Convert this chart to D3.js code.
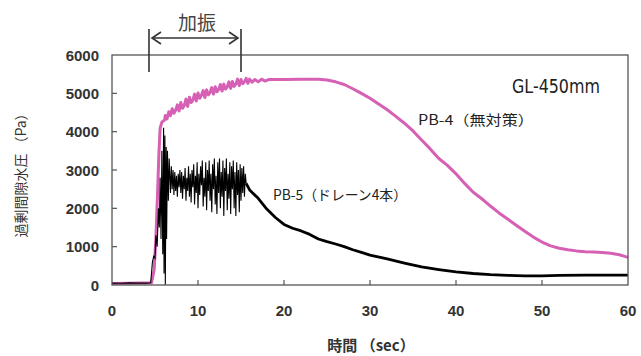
<!DOCTYPE html>
<html>
<head>
<meta charset="utf-8">
<script src="https://cdn.jsdelivr.net/npm/d3@7"></script>
<style>
  body { margin: 0; background: #fff; }
  svg { display: block; }
  .tick-label { font-family: "Liberation Sans", Arial, sans-serif; font-size: 15px; font-weight: bold; fill: #333; }
  .jp { font-family: "Noto Sans CJK JP", "Noto Sans", sans-serif; fill: #333; }
</style>
</head>
<body>
<div id="chart"></div>
<script>
// x / y ticks
const xTicks = [0, 10, 20, 30, 40, 50, 60];
const yTicks = [0, 1000, 2000, 3000, 4000, 5000, 6000];

// shaking period (sec)
const shakeRange = [4.3, 15.0];

// PB-4 (no countermeasure) [sec, Pa]
const pb4 = [
  [0, 40], [2, 45], [4.6, 60], [4.9, 400], [5.1, 1200], [5.3, 2400], [5.45, 3400],
  [5.6, 4100], [5.8, 4250], [6.1, 4300], [6.2, 4420],
  [6.4, 4330], [6.6, 4520], [6.8, 4420], [7.0, 4600], [7.2, 4480], [7.4, 4560],
  [7.6, 4700], [7.8, 4540], [8.0, 4760], [8.2, 4610], [8.4, 4680], [8.6, 4850],
  [8.8, 4660], [9.0, 4900], [9.2, 4760], [9.4, 4820], [9.6, 4980], [9.8, 4800],
  [10.0, 5010], [10.2, 4870], [10.4, 4950], [10.6, 5070], [10.8, 4890], [11.0, 5090],
  [11.2, 4960], [11.4, 5020], [11.6, 5150], [11.8, 4980], [12.0, 5170], [12.2, 5040],
  [12.4, 5100], [12.6, 5230], [12.8, 5060], [13.0, 5240], [13.2, 5110], [13.4, 5170],
  [13.6, 5300], [13.8, 5130], [14.0, 5310], [14.2, 5180], [14.4, 5240], [14.6, 5370],
  [14.8, 5200], [15.0, 5360], [15.2, 5250], [15.4, 5300], [15.6, 5390], [15.8, 5260],
  [16.0, 5370], [16.3, 5290], [16.6, 5360], [17.0, 5300], [17.4, 5370], [17.8, 5320],
  [18.2, 5360], [20, 5360], [22, 5370], [24, 5370], [25, 5350], [26, 5300], [27, 5230],
  [28, 5120], [29, 5000], [30, 4870], [31, 4720], [32, 4570], [33, 4400], [34, 4220],
  [35, 4020], [36, 3780], [37, 3550], [38, 3300], [39, 3120], [40, 2900], [41, 2650],
  [42, 2420], [43, 2250], [44, 2060], [45, 1880], [46, 1720], [47, 1560], [48, 1400],
  [49, 1250], [50, 1120], [51, 1020], [52, 960], [53, 920], [54, 890], [55, 870],
  [56, 860], [57, 850], [58, 830], [59, 790], [60, 720]
];

// PB-5 (4 drains) [sec, Pa] - during shaking
const pb5Shake = [
  [0, 50], [1, 45], [2, 55], [3, 50], [4, 50], [4.5, 60], [4.7, 600], [4.85, 750],
  [5.0, 700], [5.1, 1300], [5.25, 1000], [5.4, 2000], [5.5, 1500], [5.6, 2800],
  [5.7, 1200], [5.8, 3500], [5.9, 800], [6.0, 4100], [6.05, 300], [6.15, 3900],
  [6.2, 0], [6.3, 3600], [6.35, 1200], [6.45, 3500], [6.55, 2200], [6.65, 3300],
  [6.8, 2400], [6.9, 3100],
  [7.0, 2500], [7.1, 3000], [7.2, 2350], [7.3, 2950], [7.4, 2450], [7.5, 2850],
  [7.6, 2300], [7.7, 2900], [7.8, 2550], [7.9, 3000], [8.0, 2400], [8.1, 2950],
  [8.2, 2250], [8.3, 2850], [8.4, 2500], [8.5, 3050], [8.6, 2200], [8.7, 2800],
  [8.8, 2450], [8.9, 3100], [9.0, 2300], [9.1, 2900], [9.2, 2150], [9.3, 3000],
  [9.4, 2550], [9.5, 3150], [9.6, 2100], [9.7, 2850], [9.8, 2400], [9.9, 3200],
  [10.0, 2000], [10.1, 2900], [10.2, 2350], [10.3, 3100], [10.4, 2600], [10.5, 3250],
  [10.6, 2050], [10.7, 2800], [10.8, 2300], [10.9, 3200], [11.0, 1950], [11.1, 3000],
  [11.2, 2450], [11.3, 3250], [11.4, 2200], [11.5, 2900], [11.6, 1900], [11.7, 3150],
  [11.8, 2500], [11.9, 3300], [12.0, 2100], [12.1, 2850], [12.2, 1850], [12.3, 3200],
  [12.4, 2400], [12.5, 3300], [12.6, 2000], [12.7, 2950], [12.8, 2300], [12.9, 3250],
  [13.0, 1800], [13.1, 3050], [13.2, 2450], [13.3, 3300], [13.4, 1950], [13.5, 2900],
  [13.6, 2250], [13.7, 3200], [13.8, 1850], [13.9, 3100], [14.0, 2500], [14.1, 3250],
  [14.2, 2000], [14.3, 2950], [14.4, 1800], [14.5, 3200], [14.6, 2350], [14.7, 3000],
  [14.8, 1900], [14.9, 3150], [15.0, 2200], [15.1, 3050], [15.2, 2400], [15.3, 3100],
  [15.4, 2300], [15.5, 2900], [15.6, 2650]
];

// PB-5 after shaking
const pb5Decay = [
  [15.6, 2650], [16, 2480], [17, 2260], [18, 1980], [19, 1760], [20, 1580], [21, 1480],
  [22, 1410], [23, 1320], [24, 1200], [25, 1130], [26, 1070], [27, 1000], [28, 920],
  [29, 850], [30, 780], [32, 680], [34, 570], [36, 470], [38, 400], [40, 340],
  [42, 300], [44, 270], [46, 250], [48, 240], [50, 240], [52, 250], [55, 255],
  [58, 260], [60, 260]
];

const width = 641, height = 356;
const margin = {left: 112, right: 13, top: 55, bottom: 71};

const svg = d3.select("#chart").append("svg")
  .attr("width", width)
  .attr("height", height);

const x = d3.scaleLinear().domain([0, 60]).range([margin.left, width - margin.right]);
const y = d3.scaleLinear().domain([0, 6000]).range([height - margin.bottom, margin.top]);

const line = d3.line().x(d => x(d[0])).y(d => y(d[1]));

// series
svg.append("path")
  .datum(pb4)
  .attr("d", line)
  .attr("fill", "none")
  .attr("stroke", "#d660b4")
  .attr("stroke-width", 3)
  .attr("stroke-linejoin", "round");

svg.append("path")
  .datum(pb5Shake)
  .attr("d", line)
  .attr("fill", "none")
  .attr("stroke", "#000")
  .attr("stroke-width", 1.1);

svg.append("path")
  .datum(pb5Decay)
  .attr("d", line)
  .attr("fill", "none")
  .attr("stroke", "#000")
  .attr("stroke-width", 2.8)
  .attr("stroke-linejoin", "round");

// frame
svg.append("rect")
  .attr("x", x(0))
  .attr("y", y(6000))
  .attr("width", x(60) - x(0))
  .attr("height", y(0) - y(6000))
  .attr("fill", "none")
  .attr("stroke", "#555")
  .attr("stroke-width", 1.3);

// ticks (inside)
svg.selectAll(".xt").data(xTicks.slice(1, -1)).enter().append("line")
  .attr("x1", d => x(d)).attr("x2", d => x(d))
  .attr("y1", y(0)).attr("y2", y(0) - 5)
  .attr("stroke", "#555").attr("stroke-width", 1.2);

svg.selectAll(".yt").data(yTicks.slice(1, -1)).enter().append("line")
  .attr("x1", x(0)).attr("x2", x(0) + 5)
  .attr("y1", d => y(d)).attr("y2", d => y(d))
  .attr("stroke", "#555").attr("stroke-width", 1.2);

// tick labels
svg.selectAll(".xl").data(xTicks).enter().append("text")
  .attr("class", "tick-label")
  .attr("x", d => x(d))
  .attr("y", y(0) + 31)
  .attr("text-anchor", "middle")
  .text(d => d);

svg.selectAll(".yl").data(yTicks).enter().append("text")
  .attr("class", "tick-label")
  .attr("x", x(0) - 13)
  .attr("y", d => y(d) + 5.5)
  .attr("text-anchor", "end")
  .text(d => d);

// axis titles
svg.append("text")
  .attr("class", "jp")
  .attr("transform", `translate(26, ${(y(0) + y(6000)) / 2 + 2}) rotate(-90)`)
  .attr("text-anchor", "middle")
  .style("font-size", "14px")
  .text("過剰間隙水圧 （Pa）");

svg.append("text")
  .attr("class", "jp")
  .attr("x", 371)
  .attr("y", 351)
  .attr("text-anchor", "middle")
  .style("font-size", "15px")
  .style("font-weight", "bold")
  .text("時間 （sec）");

// shaking bracket
const bx0 = x(shakeRange[0]), bx1 = x(shakeRange[1]);
const ay = 38;
const br = svg.append("g").attr("stroke", "#333").attr("stroke-width", 1.6).attr("fill", "none");
br.append("line").attr("x1", bx0).attr("x2", bx0).attr("y1", 29).attr("y2", 72);
br.append("line").attr("x1", bx1).attr("x2", bx1).attr("y1", 29).attr("y2", 72);
br.append("line").attr("x1", bx0 + 3).attr("x2", bx1 - 3).attr("y1", ay).attr("y2", ay);
br.append("path").attr("d", `M${bx0 + 12},${ay - 6} L${bx0 + 3},${ay} L${bx0 + 12},${ay + 6}`);
br.append("path").attr("d", `M${bx1 - 12},${ay - 6} L${bx1 - 3},${ay} L${bx1 - 12},${ay + 6}`);

svg.append("text")
  .attr("class", "jp")
  .attr("x", (bx0 + bx1) / 2 + 2)
  .attr("y", 30)
  .attr("text-anchor", "middle")
  .style("font-size", "19px")
  .style("fill", "#444")
  .text("加振");

// annotations
svg.append("text")
  .attr("x", 512)
  .attr("y", 93)
  .attr("textLength", 88)
  .attr("lengthAdjust", "spacingAndGlyphs")
  .style("font-family", "'DejaVu Sans Condensed', 'Liberation Sans Narrow', sans-serif")
  .style("font-size", "19px")
  .style("fill", "#222")
  .text("GL-450mm");

svg.append("text")
  .attr("class", "jp")
  .attr("x", 418)
  .attr("y", 125)
  .attr("textLength", 116)
  .attr("lengthAdjust", "spacingAndGlyphs")
  .style("font-size", "14px")
  .style("fill", "#222")
  .text("PB-4（無対策）");

svg.append("text")
  .attr("class", "jp")
  .attr("x", 273)
  .attr("y", 200)
  .attr("textLength", 134)
  .attr("lengthAdjust", "spacingAndGlyphs")
  .style("font-size", "14px")
  .style("fill", "#222")
  .text("PB-5（ドレーン4本）");
</script>
</body>
</html>
